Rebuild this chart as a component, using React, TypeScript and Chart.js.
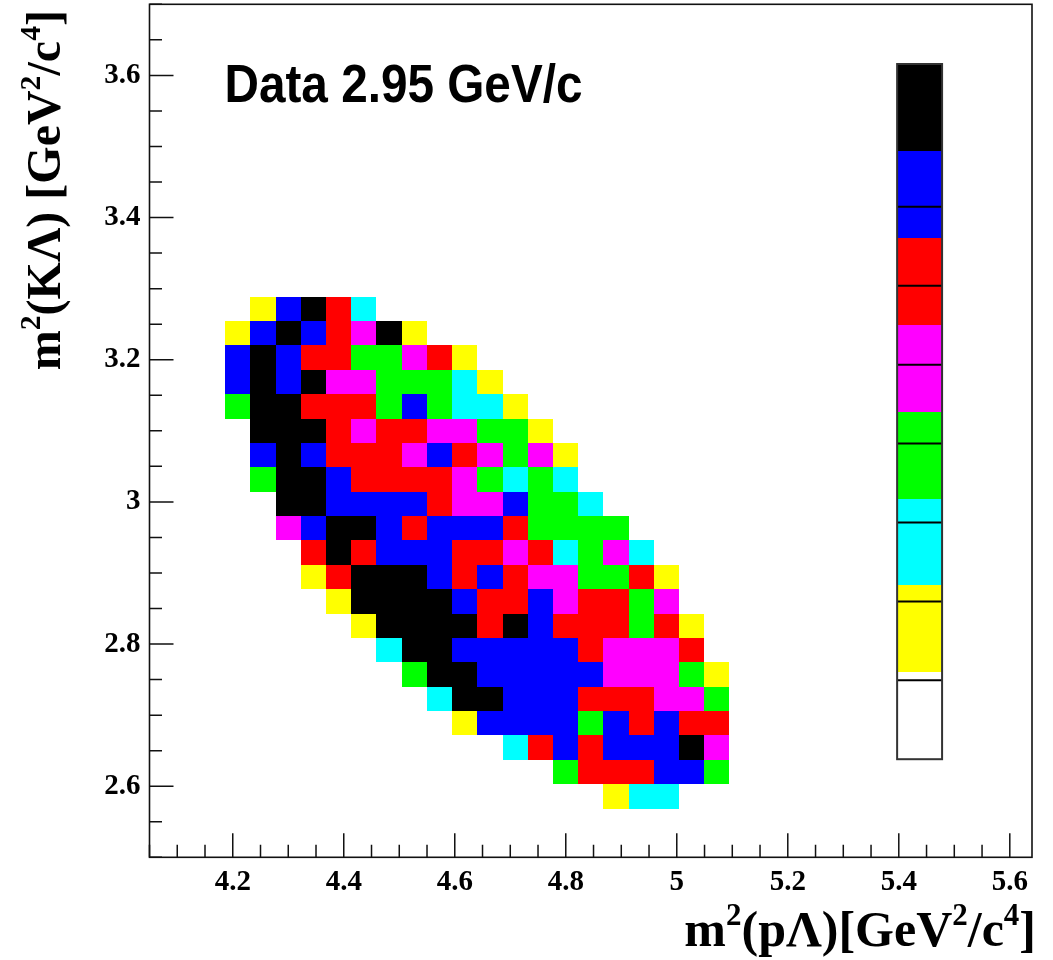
import React, { useEffect, useRef } from "react";
import { Chart, registerables } from "chart.js";

Chart.register(...registerables);

// ---- histogram definition (ROOT TH2: 35 x 35 bins) ----
const X_MIN = 4.05;
const X_MAX = 5.64;
const Y_MIN = 2.5;
const Y_MAX = 3.7;
const N_BINS = 35;
const FIRST_COL_BIN = 3; // x-bin index of first column in the grid below
const TOP_ROW_BIN = 22; // y-bin index of the top row in the grid below

// ---- axis tick labels ----
const xTickLabels = [4.2, 4.4, 4.6, 4.8, 5.0, 5.2, 5.4, 5.6];
const yTickLabels = [2.6, 2.8, 3.0, 3.2, 3.4, 3.6];

// ---- colour levels (0 = lowest / empty ... 7 = highest) ----
const levelColors = ["#ffffff", "#ffff00", "#00ffff", "#00ff00", "#ff00ff", "#ff0000", "#0000ff", "#000000"];

// ---- cell levels, one array per y row (top row first), 20 x-columns each ----
const row00 = [0, 1, 6, 7, 5, 2, 0, 0, 0, 0, 0, 0, 0, 0, 0, 0, 0, 0, 0, 0];
const row01 = [1, 6, 7, 6, 5, 4, 7, 1, 0, 0, 0, 0, 0, 0, 0, 0, 0, 0, 0, 0];
const row02 = [6, 7, 6, 5, 5, 3, 3, 4, 5, 1, 0, 0, 0, 0, 0, 0, 0, 0, 0, 0];
const row03 = [6, 7, 6, 7, 4, 4, 3, 3, 3, 2, 1, 0, 0, 0, 0, 0, 0, 0, 0, 0];
const row04 = [3, 7, 7, 5, 5, 5, 3, 6, 3, 2, 2, 1, 0, 0, 0, 0, 0, 0, 0, 0];
const row05 = [0, 7, 7, 7, 5, 4, 5, 5, 4, 4, 3, 3, 1, 0, 0, 0, 0, 0, 0, 0];
const row06 = [0, 6, 7, 6, 5, 5, 5, 4, 6, 5, 4, 3, 4, 1, 0, 0, 0, 0, 0, 0];
const row07 = [0, 3, 7, 7, 6, 5, 5, 5, 5, 4, 3, 2, 3, 2, 0, 0, 0, 0, 0, 0];
const row08 = [0, 0, 7, 7, 6, 6, 6, 6, 5, 4, 4, 6, 3, 3, 2, 0, 0, 0, 0, 0];
const row09 = [0, 0, 4, 6, 7, 7, 6, 5, 6, 6, 6, 5, 3, 3, 3, 3, 0, 0, 0, 0];
const row10 = [0, 0, 0, 5, 7, 5, 6, 6, 6, 5, 5, 4, 5, 2, 3, 4, 2, 0, 0, 0];
const row11 = [0, 0, 0, 1, 5, 7, 7, 7, 6, 5, 6, 5, 4, 4, 3, 3, 5, 1, 0, 0];
const row12 = [0, 0, 0, 0, 1, 7, 7, 7, 7, 6, 5, 5, 6, 4, 5, 5, 3, 4, 0, 0];
const row13 = [0, 0, 0, 0, 0, 1, 7, 7, 7, 7, 5, 7, 6, 5, 5, 5, 3, 5, 1, 0];
const row14 = [0, 0, 0, 0, 0, 0, 2, 7, 7, 6, 6, 6, 6, 6, 5, 4, 4, 4, 5, 0];
const row15 = [0, 0, 0, 0, 0, 0, 0, 3, 7, 7, 6, 6, 6, 6, 6, 4, 4, 4, 3, 1];
const row16 = [0, 0, 0, 0, 0, 0, 0, 0, 2, 7, 7, 6, 6, 6, 5, 5, 5, 4, 4, 3];
const row17 = [0, 0, 0, 0, 0, 0, 0, 0, 0, 1, 6, 6, 6, 6, 3, 6, 5, 6, 5, 5];
const row18 = [0, 0, 0, 0, 0, 0, 0, 0, 0, 0, 0, 2, 5, 6, 5, 6, 6, 6, 7, 4];
const row19 = [0, 0, 0, 0, 0, 0, 0, 0, 0, 0, 0, 0, 0, 3, 5, 5, 5, 6, 6, 3];
const row20 = [0, 0, 0, 0, 0, 0, 0, 0, 0, 0, 0, 0, 0, 0, 0, 1, 2, 2, 0, 0];

const zRows = [row00, row01, row02, row03, row04, row05, row06, row07, row08, row09, row10,
  row11, row12, row13, row14, row15, row16, row17, row18, row19, row20];

// palette box (in axis coordinates) and contour-level step (fraction of box height)
const PAL_X = [5.397, 5.478];
const PAL_Y = [2.638, 3.616];
const PAL_LINE_STEP = 0.1135;

const DX = (X_MAX - X_MIN) / N_BINS;
const DY = (Y_MAX - Y_MIN) / N_BINS;

type Cell = { x: number; y: number; v: number };

function buildCells(): Cell[] {
  const cells: Cell[] = [];
  zRows.forEach((row, r) => {
    row.forEach((v, c) => {
      if (v > 0) {
        cells.push({
          x: X_MIN + (FIRST_COL_BIN + c + 0.5) * DX,
          y: Y_MIN + (TOP_ROW_BIN - r + 0.5) * DY,
          v,
        });
      }
    });
  });
  return cells;
}

type Seg = { t: string; sup?: boolean };

function drawRich(ctx: CanvasRenderingContext2D, segs: Seg[], x: number, y: number, size: number, align: "left" | "right") {
  const supSize = size * 0.62;
  const rise = size * 0.42;
  const fontOf = (s: Seg) => `bold ${s.sup ? supSize : size}px "Liberation Serif", "Times New Roman", serif`;
  let total = 0;
  const widths = segs.map((s) => {
    ctx.font = fontOf(s);
    const w = ctx.measureText(s.t).width;
    total += w;
    return w;
  });
  let cx = align === "right" ? x - total : x;
  ctx.textAlign = "left";
  ctx.textBaseline = "alphabetic";
  segs.forEach((s, i) => {
    ctx.font = fontOf(s);
    ctx.fillText(s.t, cx, s.sup ? y - rise : y);
    cx += widths[i];
  });
}

const heatPlugin = {
  id: "heatCells",
  beforeDatasetsDraw(chart: any) {
    const { ctx } = chart;
    const xs = chart.scales.x;
    const ys = chart.scales.y;
    ctx.save();
    for (const p of chart.data.datasets[0].data as Cell[]) {
      const l = Math.round(xs.getPixelForValue(p.x - DX / 2));
      const r = Math.round(xs.getPixelForValue(p.x + DX / 2));
      const t = Math.round(ys.getPixelForValue(p.y + DY / 2));
      const b = Math.round(ys.getPixelForValue(p.y - DY / 2));
      ctx.fillStyle = levelColors[p.v];
      ctx.fillRect(l, t, r - l, b - t);
    }
    ctx.restore();
  },
  afterDraw(chart: any) {
    const { ctx, chartArea } = chart;
    const { left, right, top, bottom } = chartArea;
    const xs = chart.scales.x;
    const ys = chart.scales.y;
    ctx.save();

    // ---- palette (colour bar) ----
    const px0 = xs.getPixelForValue(PAL_X[0]);
    const px1 = xs.getPixelForValue(PAL_X[1]);
    const py0 = ys.getPixelForValue(PAL_Y[0]); // bottom
    const py1 = ys.getPixelForValue(PAL_Y[1]); // top
    const h = py0 - py1;
    for (let i = 0; i < levelColors.length; i++) {
      const yb = py0 - (h * i) / levelColors.length;
      const yt = py0 - (h * (i + 1)) / levelColors.length;
      ctx.fillStyle = levelColors[i];
      ctx.fillRect(px0, Math.round(yt), px1 - px0, Math.round(yb) - Math.round(yt));
    }
    ctx.strokeStyle = "#000";
    ctx.lineWidth = 2;
    for (let k = 1; k * PAL_LINE_STEP < 1; k++) {
      const yy = py0 - h * k * PAL_LINE_STEP;
      ctx.beginPath();
      ctx.moveTo(px0, yy);
      ctx.lineTo(px1, yy);
      ctx.stroke();
    }
    ctx.strokeStyle = "#333";
    ctx.lineWidth = 2;
    ctx.strokeRect(px0, py1, px1 - px0, h);

    // ---- frame ----
    ctx.strokeStyle = "#111";
    ctx.lineWidth = 1.6;
    ctx.strokeRect(left, top, right - left, bottom - top);

    // ---- ticks (inside frame, ROOT style) ----
    const MAJ = 24;
    const MIN = 12.5;
    ctx.lineWidth = 1.5;
    ctx.beginPath();
    for (let k = Math.ceil(X_MIN / 0.05 - 1e-6); k * 0.05 <= X_MAX + 1e-9; k++) {
      const px = xs.getPixelForValue(k * 0.05);
      const len = k % 4 === 0 ? MAJ : MIN;
      ctx.moveTo(px, bottom);
      ctx.lineTo(px, bottom - len);
    }
    for (let k = Math.ceil(Y_MIN / 0.05 - 1e-6); k * 0.05 <= Y_MAX + 1e-9; k++) {
      const py = ys.getPixelForValue(k * 0.05);
      const len = k % 4 === 0 ? MAJ : MIN;
      ctx.moveTo(left, py);
      ctx.lineTo(left + len, py);
    }
    ctx.stroke();

    // ---- title text ----
    ctx.fillStyle = "#000";
    const title = "Data 2.95 GeV/c";
    ctx.font = 'bold 53px "Liberation Sans", Arial, sans-serif';
    ctx.textAlign = "left";
    ctx.textBaseline = "alphabetic";
    const tw = ctx.measureText(title).width;
    const target = 358;
    ctx.save();
    ctx.translate(left + 75, top + 98);
    ctx.scale(target / tw, 1);
    ctx.fillText(title, 0, 0);
    ctx.restore();

    // ---- axis titles ----
    drawRich(
      ctx,
      [{ t: "m" }, { t: "2", sup: true }, { t: "(p\u039B)[GeV" }, { t: "2", sup: true }, { t: "/c" }, { t: "4", sup: true }, { t: "]" }],
      1036,
      946,
      50,
      "right"
    );
    ctx.save();
    ctx.translate(60, 10);
    ctx.rotate(-Math.PI / 2);
    drawRich(
      ctx,
      [{ t: "m" }, { t: "2", sup: true }, { t: "(K\u039B) [GeV" }, { t: "2", sup: true }, { t: "/c" }, { t: "4", sup: true }, { t: "]" }],
      0,
      0,
      48,
      "right"
    );
    ctx.restore();

    ctx.restore();
  },
};

const tickFont = { family: '"Liberation Serif", "Times New Roman", serif', weight: "bold" as const, size: 29 };
const fmt = (v: any) => String(Number(Number(v).toFixed(2)));

export default function App() {
  const ref = useRef<HTMLCanvasElement | null>(null);

  useEffect(() => {
    if (!ref.current) return;
    const chart = new Chart(ref.current, {
      type: "scatter",
      data: {
        datasets: [
          {
            data: buildCells() as any,
            pointRadius: 0,
            pointHoverRadius: 0,
            showLine: false,
          },
        ],
      },
      options: {
        animation: false,
        responsive: false,
        devicePixelRatio: 1,
        events: [],
        layout: { padding: { left: 0, top: 4.3, right: 21, bottom: 0 } },
        plugins: { legend: { display: false }, tooltip: { enabled: false }, title: { display: false } },
        scales: {
          x: {
            type: "linear",
            min: X_MIN,
            max: X_MAX,
            grid: { display: false, drawTicks: false },
            border: { display: false },
            afterBuildTicks: (s: any) => {
              s.ticks = xTickLabels.map((v) => ({ value: v }));
            },
            afterFit: (s: any) => {
              s.height = 102.7;
              s.paddingLeft = 0;
              s.paddingRight = 0;
            },
            ticks: { autoSkip: false, maxRotation: 0, minRotation: 0, padding: 8, color: "#000", font: tickFont, callback: fmt },
          },
          y: {
            type: "linear",
            min: Y_MIN,
            max: Y_MAX,
            grid: { display: false, drawTicks: false },
            border: { display: false },
            afterBuildTicks: (s: any) => {
              s.ticks = yTickLabels.map((v) => ({ value: v }));
            },
            afterFit: (s: any) => {
              s.width = 149.5;
              s.paddingTop = 0;
              s.paddingBottom = 0;
            },
            ticks: { autoSkip: false, padding: 9, color: "#000", font: tickFont, callback: fmt },
          },
        },
      },
      plugins: [heatPlugin],
    });
    return () => chart.destroy();
  }, []);

  return (
    <div style={{ position: "absolute", left: 0, top: 0, width: 1053, height: 960, background: "#fff" }}>
      <canvas ref={ref} width={1053} height={960} style={{ display: "block", width: 1053, height: 960 }} />
    </div>
  );
}
